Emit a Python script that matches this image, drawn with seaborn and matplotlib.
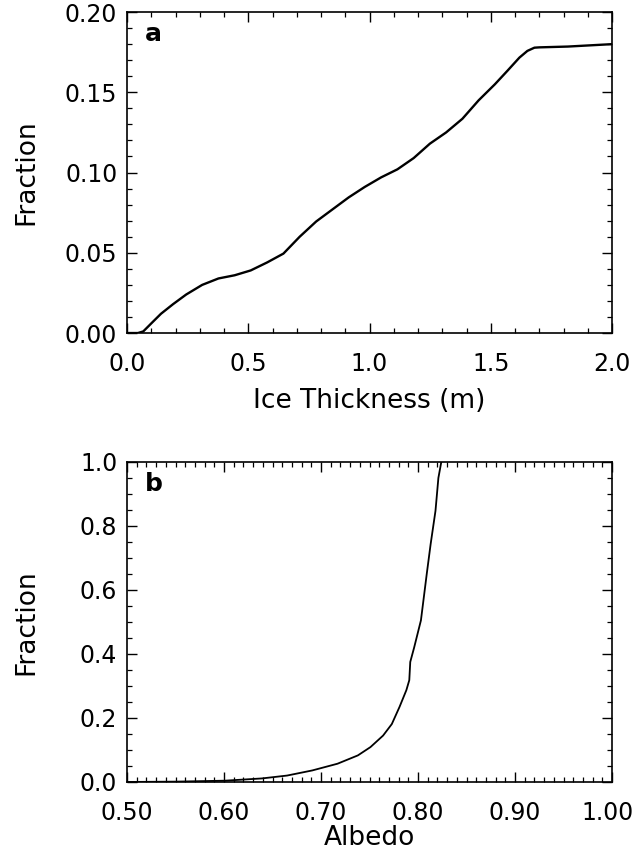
import matplotlib
matplotlib.use("Agg")
import matplotlib.pyplot as plt
from matplotlib.ticker import MultipleLocator, FormatStrFormatter, FuncFormatter
import seaborn as sns

# panel a: cumulative fraction vs ice thickness
thickness = [0.0, 0.045, 0.067, 0.10, 0.14, 0.19, 0.244, 0.31, 0.377, 0.444, 0.51,
             0.578, 0.645, 0.712, 0.78, 0.847, 0.914, 0.98, 1.048, 1.115, 1.182,
             1.249, 1.316, 1.383, 1.45, 1.517, 1.568, 1.618, 1.651, 1.68, 1.70,
             1.818, 2.0]
frac_a = [0.0, 0.0, 0.001, 0.006, 0.012, 0.018, 0.024, 0.030, 0.034, 0.036, 0.039,
          0.044, 0.0495, 0.060, 0.0695, 0.077, 0.0845, 0.091, 0.097, 0.102, 0.109,
          0.118, 0.125, 0.1335, 0.145, 0.155, 0.1633, 0.1716, 0.1758, 0.1778, 0.178,
          0.1785, 0.180]

# panel b: cumulative fraction vs albedo
albedo = [0.50, 0.55, 0.601, 0.639, 0.665, 0.691, 0.717, 0.738, 0.751, 0.764, 0.773,
          0.781, 0.788, 0.791, 0.792, 0.796, 0.803, 0.809, 0.813, 0.818, 0.821, 0.824]
frac_b = [0.0, 0.001, 0.004, 0.011, 0.020, 0.036, 0.057, 0.083, 0.109, 0.145, 0.181,
          0.235, 0.287, 0.318, 0.375, 0.42, 0.505, 0.65, 0.743, 0.847, 0.95, 1.0]

sns.set_theme(style="ticks")
plt.rcParams["font.family"] = ["DejaVu Sans"]

fig = plt.figure(figsize=(6.36, 8.61), dpi=100)
ax_a = fig.add_axes([0.1997, 0.6132, 0.7626, 0.3728])
ax_b = fig.add_axes([0.1997, 0.0918, 0.7626, 0.3717])

sns.lineplot(x=thickness, y=frac_a, ax=ax_a, color="black", linewidth=1.7,
             sort=False, estimator=None)
sns.lineplot(x=albedo, y=frac_b, ax=ax_b, color="black", linewidth=1.3,
             sort=False, estimator=None)

specs = [
    (ax_a, (0, 2.0), (0, 0.20), 0.5, 0.1, 0.05, 0.01, "%.1f", "%.2f",
     "Ice Thickness (m)", -0.17, "a"),
    (ax_b, (0.5, 1.0), (0, 1.0), 0.1, 0.01, 0.2, 0.05, "%.2f", "%.1f",
     "Albedo", -0.135, "b"),
]
for ax, xl, yl, xmaj, xmin, ymaj, ymin, xfmt, yfmt, xlabel, xly, tag in specs:
    ax.set_xlim(*xl)
    ax.set_ylim(*yl)
    ax.xaxis.set_major_locator(MultipleLocator(xmaj))
    ax.xaxis.set_minor_locator(MultipleLocator(xmin))
    ax.yaxis.set_major_locator(MultipleLocator(ymaj))
    ax.yaxis.set_minor_locator(MultipleLocator(ymin))
    ax.xaxis.set_major_formatter(FormatStrFormatter(xfmt))
    ax.yaxis.set_major_formatter(FormatStrFormatter(yfmt))
    ax.tick_params(which="both", direction="in", top=True, right=True,
                   color="black", labelcolor="black", labelsize=17)
    ax.tick_params(which="major", length=7, width=1.0)
    ax.tick_params(which="minor", length=3.5, width=0.9)
    ax.tick_params(axis="x", which="major", pad=14)
    ax.tick_params(axis="y", which="major", pad=7)
    for s in ax.spines.values():
        s.set_visible(True)
        s.set_color("black")
        s.set_linewidth(1.2)
    ax.set_xlabel(xlabel, fontsize=19, color="black")
    ax.set_ylabel("Fraction", fontsize=19, color="black")
    ax.xaxis.set_label_coords(0.5, xly)
    ax.yaxis.set_label_coords(-0.18, 0.5)
    ax.text(0.037, 0.968, tag, transform=ax.transAxes, ha="left", va="top",
            fontsize=18, fontweight="bold", family=["DejaVu Sans"], color="black")

# right-most albedo label drawn nudged left so it stays inside the figure
ax_b.xaxis.set_major_formatter(FuncFormatter(lambda v, p: "" if v > 0.995 else f"{v:.2f}"))
ax_b.annotate("1.00", xy=(1.0, 0.0), xycoords="axes fraction",
              xytext=(-3, -14), textcoords="offset points",
              ha="center", va="top", fontsize=17, color="black",
              annotation_clip=False)

fig.savefig("out.png", dpi=100)
plt.close(fig)
